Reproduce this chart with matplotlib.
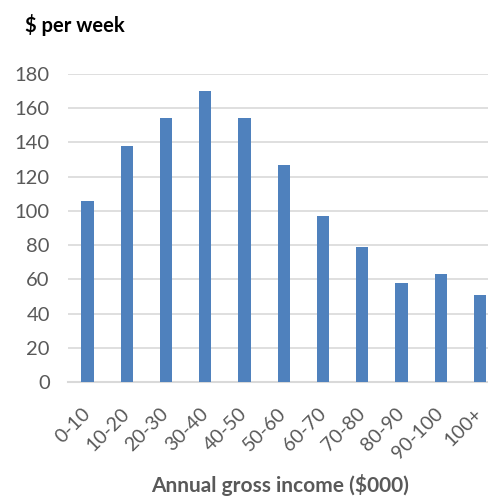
import matplotlib.pyplot as plt

# data
income_bands = ['0-10', '10-20', '20-30', '30-40', '40-50', '50-60',
                '60-70', '70-80', '80-90', '90-100', '100+']
dollars_per_week = [106, 138, 154, 170, 154, 127, 97, 79, 58, 63, 51]
y_ticks = [0, 20, 40, 60, 80, 100, 120, 140, 160, 180]

plt.rcParams['font.family'] = ['Lato', 'DejaVu Sans']

fig = plt.figure(figsize=(4.88, 4.96), dpi=100)
ax = fig.add_axes([0.139, 0.2298, 0.8848, 0.621])

x = range(len(income_bands))
ax.bar(x, dollars_per_week, width=0.31, color='#4f81bd', zorder=3)

ax.set_xlim(-0.5, len(income_bands) - 0.5)
ax.set_ylim(0, 180)
ax.set_yticks(y_ticks)
ax.yaxis.grid(True, color='#d9d9d9', linewidth=1.2, zorder=0)

for side in ['top', 'right', 'left']:
    ax.spines[side].set_visible(False)
ax.spines['bottom'].set_color('#d9d9d9')
ax.spines['bottom'].set_linewidth(1.5)

ax.set_xticks(list(x))
ax.set_xticklabels(income_bands, rotation=45, ha='right', va='center',
                   rotation_mode='anchor')
ax.tick_params(axis='both', length=0, colors='#595959')
ax.tick_params(axis='y', labelsize=14.5, pad=13)
ax.tick_params(axis='x', labelsize=14, pad=21)

ax.set_xlabel('Annual gross income ($000)', fontsize=15, fontweight='bold',
              color='#595959')
ax.xaxis.set_label_coords(0.492, -0.334)
ax.xaxis.label.set_va('center')
fig.text(0.051, 0.95, '$ per week', fontsize=14.5, fontweight='bold',
         color='black', va='center', ha='left')

fig.savefig('out.png', dpi=100)
